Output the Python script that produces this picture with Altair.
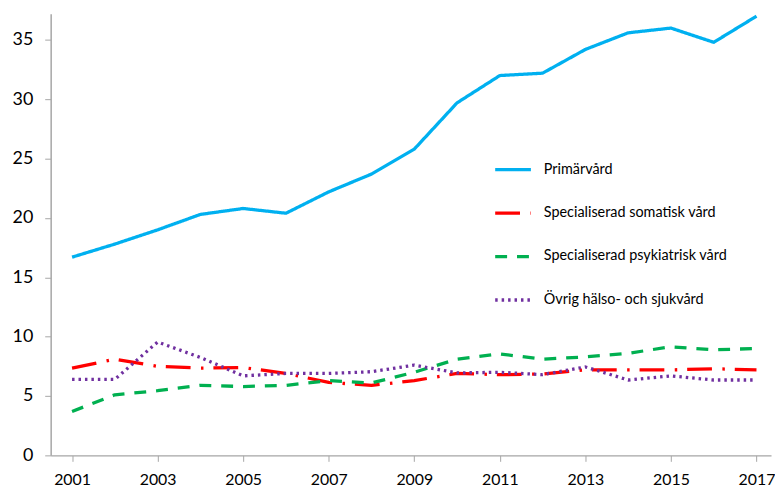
import altair as alt
import pandas as pd

years = list(range(2001, 2018))
series_names = [
    "Primärvård",
    "Specialiserad somatisk vård",
    "Specialiserad psykiatrisk vård",
    "Övrig hälso- och sjukvård",
]
primarvard = [16.7, 17.8, 19.0, 20.3, 20.8, 20.4, 22.2, 23.7, 25.8, 29.7, 32.0, 32.2, 34.2, 35.6, 36.0, 34.8, 37.0]
somatisk = [7.35, 8.1, 7.5, 7.35, 7.4, 6.9, 6.15, 5.9, 6.3, 6.9, 6.8, 6.85, 7.2, 7.2, 7.2, 7.3, 7.2]
psykiatrisk = [3.7, 5.1, 5.45, 5.9, 5.8, 5.9, 6.3, 6.1, 7.0, 8.1, 8.55, 8.1, 8.3, 8.6, 9.15, 8.9, 9.0]
ovrig = [6.4, 6.4, 9.55, 8.25, 6.7, 6.9, 6.9, 7.05, 7.6, 6.95, 7.0, 6.8, 7.45, 6.35, 6.7, 6.35, 6.35]

colors = ["#00B0F0", "#FF0000", "#00B050", "#7030A0"]
dashes = [[1, 0], [25, 10.5, 2.5, 10], [12, 10], [2.5, 4]]

rows = []
for name, vals in zip(series_names, [primarvard, somatisk, psykiatrisk, ovrig]):
    for y, v in zip(years, vals):
        rows.append({"År": y, "Värde": v, "Serie": name})
df = pd.DataFrame(rows)

legend_kw = dict(
    title=None,
    orient="none",
    legendX=446,
    legendY=137,
    symbolType="stroke",
    symbolSize=1296,
    symbolStrokeWidth=3.3,
    labelFont="Lato",
    labelFontSize=14.5,
    labelColor="#000000",
    labelOffset=11,
    labelLimit=0,
    rowPadding=16.8,
    padding=0,
)

chart = (
    alt.Chart(df)
    .mark_line(strokeWidth=3.3, strokeCap="butt", strokeJoin="round", clip=False)
    .encode(
        x=alt.X(
            "År:Q",
            scale=alt.Scale(domain=[2000.5, 2017.34], nice=False, zero=False),
            axis=alt.Axis(
                values=list(range(2001, 2018, 2)),
                format="d",
                title=None,
                labelFont="Lato",
                labelFontSize=16,
                labelColor="#000000",
                labelPadding=10,
                tickSize=6,
                tickColor="#A6A6A6",
                domainColor="#A6A6A6",
                domainWidth=1.5,
                grid=False,
            ),
        ),
        y=alt.Y(
            "Värde:Q",
            scale=alt.Scale(domain=[0, 37.2], nice=False),
            axis=alt.Axis(
                values=[0, 5, 10, 15, 20, 25, 30, 35],
                title=None,
                labelFont="Lato",
                labelFontSize=18,
                labelColor="#000000",
                labelPadding=12,
                tickSize=6,
                tickColor="#A6A6A6",
                domainColor="#A6A6A6",
                domainWidth=1.5,
                grid=False,
            ),
        ),
        color=alt.Color(
            "Serie:N",
            scale=alt.Scale(domain=series_names, range=colors),
            legend=alt.Legend(**legend_kw),
        ),
        strokeDash=alt.StrokeDash(
            "Serie:N",
            scale=alt.Scale(domain=series_names, range=dashes),
            legend=alt.Legend(**legend_kw),
        ),
        order=alt.Order("År:Q"),
    )
    .properties(
        width=726,
        height=445,
        autosize=alt.AutoSizeParams(type="none"),
        padding={"left": 43, "top": 4, "right": 4, "bottom": 30},
    )
    .configure_view(stroke=None)
)

chart.save("out.html", embed_options={"renderer": "svg", "actions": False})
